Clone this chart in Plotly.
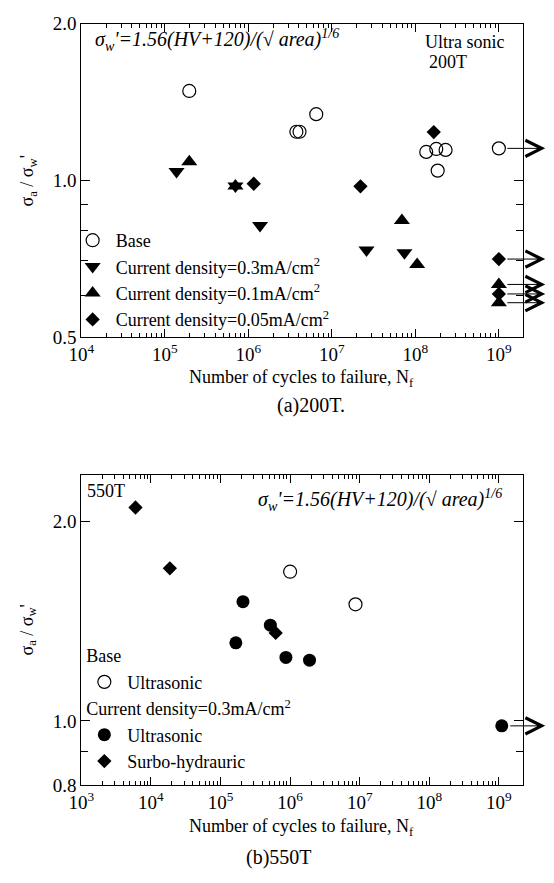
import numpy as np
import plotly.graph_objects as go

# ---------------- Panel (a) 200T : sigma_a / sigma_w' vs N_f ----------------
a_base_N = [1.96e5, 3.76e6, 4.1e6, 6.5e6, 1.35e8, 1.78e8, 2.3e8, 1.85e8, 1.0e9]
a_base_r = [1.485, 1.24, 1.24, 1.34, 1.134, 1.149, 1.144, 1.044, 1.152]
a_cd03_N = [1.38e5, 7.0e5, 1.38e6, 2.6e7, 7.4e7]
a_cd03_r = [1.04, 0.975, 0.819, 0.735, 0.726]
a_cd01_N = [1.96e5, 7.0e5, 6.9e7, 1.05e8, 1.0e9, 1.0e9]
a_cd01_r = [1.086, 0.975, 0.837, 0.689, 0.631, 0.582]
a_cd005_N = [1.16e6, 2.2e7, 1.66e8, 1.0e9, 1.0e9]
a_cd005_r = [0.985, 0.974, 1.238, 0.706, 0.605]

# ---------------- Panel (b) 550T ----------------
b_base_N = [1.0e6, 8.7e6]
b_base_r = [1.68, 1.50]
b_cdus_N = [2.1e5, 5.2e5, 1.66e5, 8.7e5, 1.9e6, 1.1e9]
b_cdus_r = [1.514, 1.395, 1.312, 1.247, 1.235, 0.983]
b_surbo_N = [6.0e3, 1.87e4, 6.2e5]
b_surbo_r = [2.10, 1.70, 1.358]

RUNOUT = 1e9  # run-out (no failure) points get an arrow

a_xticks = [1e4, 1e5, 1e6, 1e7, 1e8, 1e9]
b_xticks = [1e3, 1e4, 1e5, 1e6, 1e7, 1e8, 1e9]
a_yticks = [0.5, 1.0, 2.0]
a_yminor = [0.6, 0.7, 0.8, 0.9]
b_yticks = [0.8, 1.0, 2.0]
b_yminor = [0.9]

FONT = "Liberation Serif"
W, H = 554, 883
BLACK = "black"


def px_x(p):
    return p / W


def px_y(p):
    return 1 - p / H


def sup_label(v):
    return "10<sup>%d</sup>" % int(round(np.log10(v)))


def minor_decades(lo, hi):
    out = []
    for d in range(lo, hi + 1):
        for k in range(2, 10):
            out.append(k * 10 ** d)
    return out


fig = go.Figure()

# ---- panel (a) traces ----
fig.add_trace(go.Scatter(x=a_base_N, y=a_base_r, mode="markers", name="Base",
                         marker=dict(symbol="circle-open", size=13, color=BLACK, line=dict(width=1.2)),
                         xaxis="x", yaxis="y", legend="legend"))
fig.add_trace(go.Scatter(x=a_cd03_N, y=a_cd03_r, mode="markers", name="Current density=0.3mA/cm<sup>2</sup>",
                         marker=dict(symbol="triangle-down", size=14, color=BLACK),
                         xaxis="x", yaxis="y", legend="legend"))
fig.add_trace(go.Scatter(x=a_cd01_N, y=a_cd01_r, mode="markers", name="Current density=0.1mA/cm<sup>2</sup>",
                         marker=dict(symbol="triangle-up", size=14, color=BLACK),
                         xaxis="x", yaxis="y", legend="legend"))
fig.add_trace(go.Scatter(x=a_cd005_N, y=a_cd005_r, mode="markers", name="Current density=0.05mA/cm<sup>2</sup>",
                         marker=dict(symbol="diamond", size=11, color=BLACK),
                         xaxis="x", yaxis="y", legend="legend"))

# ---- panel (b) traces ----
fig.add_trace(go.Scatter(x=b_base_N, y=b_base_r, mode="markers", name="Ultrasonic",
                         legendgroup="base", legendgrouptitle=dict(text="Base", font=dict(family=FONT, size=18, color=BLACK)),
                         marker=dict(symbol="circle-open", size=13, color=BLACK, line=dict(width=1.2)),
                         xaxis="x2", yaxis="y2", legend="legend2"))
fig.add_trace(go.Scatter(x=b_cdus_N, y=b_cdus_r, mode="markers", name="Ultrasonic",
                         legendgroup="cd", legendgrouptitle=dict(text="Current density=0.3mA/cm<sup>2</sup>",
                                                                 font=dict(family=FONT, size=18, color=BLACK)),
                         marker=dict(symbol="circle", size=13, color=BLACK),
                         xaxis="x2", yaxis="y2", legend="legend2"))
fig.add_trace(go.Scatter(x=b_surbo_N, y=b_surbo_r, mode="markers", name="Surbo-hydrauric",
                         legendgroup="cd",
                         marker=dict(symbol="diamond", size=11, color=BLACK),
                         xaxis="x2", yaxis="y2", legend="legend2"))

# ---- axes ----
XDOM = [px_x(70), px_x(522)]
a_xrange = [4, 9.286]
b_xrange = [3, 9.343]
a_yrange = [np.log10(0.5), np.log10(2.0)]
b_yrange = [np.log10(0.8), np.log10(2.354)]


def xaxis_cfg(ticks, rng, anchor, minor_vals):
    return dict(type="log", domain=XDOM, range=rng, anchor=anchor,
                tickmode="array", tickvals=ticks, ticktext=[sup_label(t) for t in ticks],
                ticks="inside", ticklen=8, tickwidth=1, tickcolor=BLACK,
                minor=dict(tickmode="array", tickvals=minor_vals, ticks="inside", ticklen=4,
                           tickwidth=1, tickcolor=BLACK, showgrid=False),
                showline=True, linecolor=BLACK, linewidth=1.2, mirror="ticks",
                showgrid=False, zeroline=False,
                tickfont=dict(family=FONT, size=19, color=BLACK))


def yaxis_cfg(ticks, minor_vals, rng, dom, anchor):
    return dict(type="log", domain=dom, range=rng, anchor=anchor,
                tickmode="array", tickvals=ticks, ticktext=["%.1f" % t for t in ticks],
                ticks="inside", ticklen=9, tickwidth=1, tickcolor=BLACK,
                minor=dict(tickmode="array", tickvals=minor_vals, ticks="inside", ticklen=7,
                           tickwidth=1, tickcolor=BLACK, showgrid=False),
                showline=True, linecolor=BLACK, linewidth=1.2, mirror="ticks",
                showgrid=False, zeroline=False,
                tickfont=dict(family=FONT, size=19, color=BLACK))


fig.update_layout(
    xaxis=xaxis_cfg(a_xticks, a_xrange, "y", minor_decades(4, 8)),
    yaxis=yaxis_cfg(a_yticks, a_yminor, a_yrange, [px_y(335), px_y(14)], "x"),
    xaxis2=xaxis_cfg(b_xticks, b_xrange, "y2", minor_decades(3, 8)),
    yaxis2=yaxis_cfg(b_yticks, b_yminor, b_yrange, [px_y(794), px_y(476)], "x2"),
)

# ---- run-out arrows (from data) ----
annotations = []


def add_runout(Ns, rs, xr, yr, xmax, px_per_dec):
    for N, r in zip(Ns, rs):
        if N >= RUNOUT:
            annotations.append(dict(
                x=xmax + 23.0 / px_per_dec, y=np.log10(r),
                ax=np.log10(N), ay=np.log10(r),
                xref=xr, yref=yr, axref=xr, ayref=yr,
                showarrow=True, arrowhead=5, arrowsize=3.2, arrowwidth=1,
                arrowcolor=BLACK, startstandoff=7, text=""))


a_ppd = (522 - 70) / (a_xrange[1] - a_xrange[0])
b_ppd = (522 - 70) / (b_xrange[1] - b_xrange[0])
for Ns, rs in [(a_base_N, a_base_r), (a_cd03_N, a_cd03_r), (a_cd01_N, a_cd01_r), (a_cd005_N, a_cd005_r)]:
    add_runout(Ns, rs, "x", "y", a_xrange[1], a_ppd)
for Ns, rs in [(b_base_N, b_base_r), (b_cdus_N, b_cdus_r), (b_surbo_N, b_surbo_r)]:
    add_runout(Ns, rs, "x2", "y2", b_xrange[1], b_ppd)

formula = "<i>σ<sub>w</sub>'=1.56(HV+120)/(√ area)<sup>1/6</sup></i>"


def txt(text, x, y, xanchor="left", size=17, angle=0):
    annotations.append(dict(text=text, x=px_x(x), y=px_y(y), xref="paper", yref="paper",
                            xanchor=xanchor, yanchor="middle", showarrow=False, textangle=angle,
                            font=dict(family=FONT, size=size, color=BLACK)))


txt(formula, 82, 31, size=20)
txt("Ultra sonic", 420, 33, size=18)
txt("200T", 424, 53, size=18)
txt("550T", 74, 493, size=18)
txt(formula, 503, 502, xanchor="right", size=20)
ytitle = "σ<sub>a</sub> / σ<sub>w</sub>'"
txt(ytitle, 16, 175, xanchor="center", size=18, angle=-90)
txt(ytitle, 16, 635, xanchor="center", size=18, angle=-90)
txt("Number of cycles to failure, N<sub>f</sub>", 295, 377, xanchor="center", size=18)
txt("Number of cycles to failure, N<sub>f</sub>", 295, 837, xanchor="center", size=18)
txt("(a)200T.", 305, 405, xanchor="center", size=20)
txt("(b)550T", 272, 868, xanchor="center", size=20)

fig.update_layout(
    width=W, height=H, margin=dict(l=0, r=0, t=0, b=0),
    paper_bgcolor="white", plot_bgcolor="white",
    font=dict(family=FONT, size=17, color=BLACK),
    showlegend=True,
    legend=dict(x=px_x(58), xanchor="left", y=px_y(336), yanchor="bottom",
                bgcolor="rgba(0,0,0,0)", font=dict(family=FONT, size=18, color=BLACK),
                tracegroupgap=0, itemsizing="trace", itemwidth=36),
    legend2=dict(x=px_x(70), xanchor="left", y=px_y(788), yanchor="bottom",
                 bgcolor="rgba(0,0,0,0)", font=dict(family=FONT, size=18, color=BLACK),
                 tracegroupgap=0, itemsizing="trace", itemwidth=36),
    annotations=annotations,
)

fig.write_html("out.html")
